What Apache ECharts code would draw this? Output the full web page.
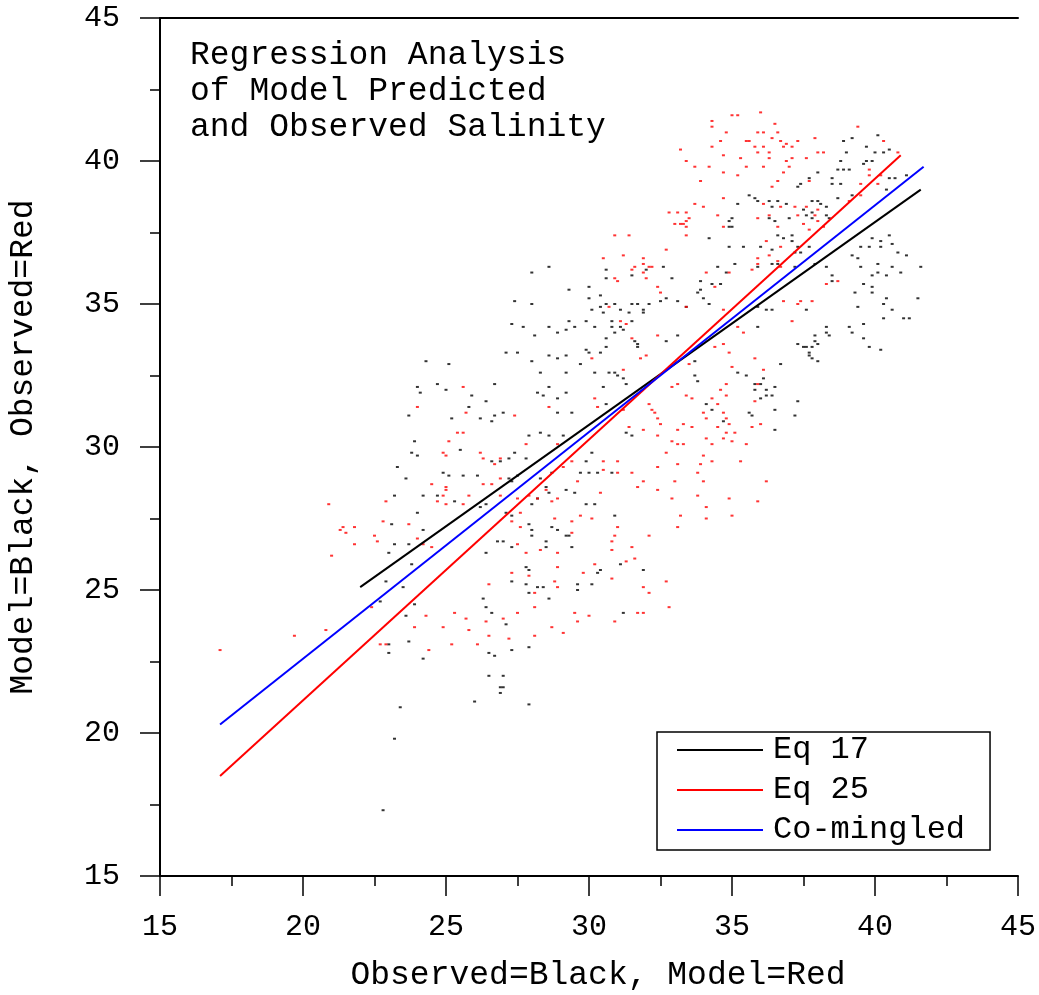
<!DOCTYPE html>
<html>
<head>
<meta charset="utf-8">
<script src="https://cdn.jsdelivr.net/npm/echarts@6/dist/echarts.min.js"></script>
<style>
html,body{margin:0;padding:0;background:#fff;}
#chart{width:1039px;height:995px;}
</style>
</head>
<body>
<div id="chart"></div>
<script>
// Axis ranges / ticks
const axisMin = 15, axisMax = 45, axisStep = 5;

// Black dots: observed salinity (x) vs model (y)
const blackPoints = [
[24.3,33.0],[25.1,32.9],[24.7,32.2],[25.0,32.0],[24.0,32.1],[24.1,31.9],[23.7,31.1],[23.9,30.2],[23.8,29.8],[24.0,29.7],
[23.3,29.3],[23.6,28.9],[24.9,29.1],[25.1,29.0],[23.2,28.3],[24.2,28.3],[24.7,28.3],[24.0,27.7],[23.1,27.3],[24.2,27.1],
[23.2,26.6],[23.7,26.6],[23.0,26.3],[23.8,25.9],[22.9,25.3],[23.5,25.1],[22.7,24.6],[23.9,24.5],[23.6,24.1],[23.7,23.2],
[23.0,23.1],[23.0,22.8],[24.2,22.6],[23.4,20.9],[23.2,19.8],[22.8,17.3],
[28.6,36.3],[28.0,36.1],[30.6,36.2],[30.6,35.9],[31.5,36.0],[32.0,36.2],[32.6,36.3],[32.9,35.9],[29.3,35.5],[30.0,35.6],
[30.4,35.3],[30.0,35.2],[30.6,35.0],[30.9,35.0],[30.4,34.9],[30.1,34.8],[31.1,34.8],[31.4,34.7],[31.7,35.0],[31.9,34.8],
[30.5,34.7],[32.7,35.2],[33.1,35.1],[33.4,34.9],[27.4,35.1],[28.0,35.0],[27.3,34.3],[27.7,34.2],[28.6,34.2],[28.9,34.0],
[29.2,34.1],[29.3,34.4],[29.5,34.2],[29.9,34.4],[30.2,34.2],[30.8,34.2],[30.9,34.0],[31.1,34.2],[31.5,34.4],[30.6,33.8],
[31.7,33.6],[31.7,33.5],[32.7,33.7],[33.1,33.9],[28.1,33.9],[27.5,33.3],[28.0,33.0],[27.1,33.3],[28.6,33.2],[28.9,33.1],
[29.2,33.2],[29.7,32.9],[29.9,33.4],[30.0,33.3],[30.4,33.3],[30.6,33.5],[28.3,32.6],[29.2,32.6],[30.2,32.6],[30.7,32.6],
[30.9,32.6],[31.0,32.5],[31.2,32.4],[31.3,32.2],[25.9,31.8],[25.8,31.4],[26.4,31.6],[26.7,32.2],[28.2,31.9],[28.4,31.8],
[28.6,32.1],[28.9,31.7],[29.2,31.9],[30.5,32.1],[25.2,31.0],[26.2,31.0],[26.6,30.9],[26.7,31.1],[27.0,31.2],[28.9,31.2],
[29.4,31.2],[27.9,30.4],[28.3,30.5],[28.6,30.4],[29.1,30.4],[31.3,30.5],[31.5,30.4],[30.6,31.5],[25.5,29.9],[27.4,29.8],
[26.6,29.5],[26.9,29.5],[27.2,29.6],[27.8,29.6],[25.6,29.0],[26.1,29.0],[27.2,28.9],[27.3,28.8],[27.5,29.0],[28.3,28.9],
[28.7,29.1],[29.7,29.1],[29.9,29.5],[30.1,29.8],[30.0,29.1],[30.3,29.1],[30.8,29.1],[25.3,28.1],[26.2,27.9],[26.4,28.0],
[27.1,27.7],[27.3,27.6],[28.0,28.0],[28.2,28.2],[28.5,28.6],[28.6,28.4],[29.2,28.5],[29.5,28.4],[29.9,28.0],[30.2,28.0],
[30.9,27.6],[26.4,26.3],[26.8,26.7],[27.0,26.7],[27.3,26.5],[27.9,27.3],[28.0,27.1],[28.0,26.9],[28.7,27.2],[28.9,27.1],
[28.5,26.7],[28.5,26.5],[29.2,26.9],[29.3,26.9],[29.4,26.5],[27.8,25.8],[27.9,25.7],[30.3,25.6],[30.4,25.7],[31.1,25.9],
[27.3,25.3],[27.8,25.2],[27.9,24.9],[28.2,25.1],[28.4,25.1],[28.6,24.7],[26.3,24.7],[26.4,24.4],[26.6,24.2],[27.1,23.8],
[27.3,22.9],[27.9,23.0],[26.5,22.8],[26.7,22.7],[26.5,22.0],[27.0,22.0],[26.9,21.6],[27.0,21.6],[26.9,21.4],[26.0,21.1],
[27.9,21.0],[29.6,25.2],[29.6,25.0],[30.1,25.2],[31.2,24.2],[31.9,25.7],
[40.1,40.9],[39.2,40.8],[38.9,40.7],[39.0,40.3],[39.7,40.5],[40.0,40.3],[40.3,40.3],[40.5,40.4],[39.7,40.0],[39.6,39.9],
[39.9,40.0],[38.8,40.0],[38.7,39.7],[38.9,39.7],[39.1,39.7],[38.5,39.4],[38.5,39.2],[38.8,39.2],[38.0,39.6],[37.7,39.4],
[37.3,39.1],[37.4,39.2],[38.7,38.7],[39.2,38.8],[40.5,39.4],[40.7,39.4],[40.4,39.0],[41.1,39.5],[35.6,38.8],[35.8,38.7],
[35.9,38.6],[35.2,38.5],[36.3,38.6],[36.4,38.4],[36.6,38.6],[36.9,38.5],[37.8,38.6],[38.0,38.6],[38.1,38.5],[38.3,38.4],
[38.3,38.1],[38.4,38.0],[37.5,38.3],[37.6,38.1],[37.8,38.2],[36.3,38.0],[36.5,37.9],[37.0,38.0],[37.8,38.0],[35.0,38.0],
[34.9,37.9],[34.9,37.7],[35.0,37.7],[34.2,37.3],[35.4,37.0],[36.0,37.0],[34.9,37.0],[36.6,37.4],[36.8,37.3],[37.1,37.4],
[37.1,37.2],[37.3,37.0],[37.2,36.8],[37.4,36.8],[37.7,37.0],[36.4,36.9],[36.4,36.4],[36.6,36.4],[35.9,36.3],[35.1,36.4],
[34.8,36.1],[34.5,36.3],[37.2,36.3],[38.3,36.3],[38.5,36.0],[38.5,35.8],[39.2,36.7],[39.5,37.0],[39.8,37.0],[39.9,37.3],
[40.2,37.2],[40.5,37.4],[40.6,37.1],[40.2,37.0],[40.8,36.8],[41.1,36.7],[39.4,36.6],[40.1,36.4],[39.5,36.3],[39.9,36.0],
[40.1,36.1],[40.4,36.0],[40.6,36.3],[40.9,36.1],[41.6,36.3],[39.6,35.7],[39.9,35.6],[39.9,35.4],[39.3,35.4],[39.4,34.9],
[40.3,35.0],[40.4,35.2],[40.6,34.8],[41.0,34.5],[41.2,34.5],[40.3,34.5],[41.5,35.2],[37.9,36.4],[37.6,34.8],[35.9,34.9],
[36.2,34.8],[36.4,34.8],[34.3,35.7],[33.8,35.4],[34.0,35.2],[34.2,35.0],[34.6,35.7],[38.3,34.2],[35.9,34.2],
[38.3,34.0],[38.4,33.9],[39.1,34.2],[39.2,34.0],[39.6,34.3],[39.6,33.8],[37.9,33.9],[37.3,33.6],[37.5,33.5],[37.6,33.5],
[37.8,33.5],[37.9,33.7],[38.0,33.6],[37.7,33.3],[37.7,33.2],[37.8,33.1],[38.0,33.0],[39.8,33.5],[40.2,33.4],[36.7,32.9],
[35.2,32.6],[35.5,32.5],[33.7,32.5],[35.8,32.2],[36.0,32.2],[36.1,32.4],[35.8,32.0],[36.2,32.0],[36.5,32.1],[36.0,31.7],
[37.3,31.6],[36.5,31.3],[37.2,31.1],[36.5,30.6],[34.1,31.5],[34.3,31.3],[34.7,30.9],[35.6,31.2],[35.7,31.1],
[31.5,35.0],[32.1,35.0],[32.5,35.1],[33.9,35.5],[33.9,35.8],[30.8,34.4],[31.2,34.1],[31.9,34.7],[33.7,33.0],[31.6,33.7],
[33.8,32.3],[36.2,31.8],[36.4,31.8]
];

// Red dots: model salinity (x) vs observed (y)
const redPoints = [
[24.0,31.4],[25.1,30.2],[24.9,29.8],[25.0,29.7],[24.5,28.7],[25.0,28.5],[24.9,28.3],[24.7,28.1],[25.0,28.0],[22.9,28.1],
[20.9,28.0],[22.8,27.4],[23.7,27.3],[21.4,27.2],[21.3,27.1],[21.5,27.0],[21.8,27.2],[22.5,26.9],[22.6,26.7],[21.8,26.6],
[24.0,26.8],[24.2,26.6],[24.5,26.5],[21.0,26.2],
[17.1,22.9],[19.7,23.4],[20.8,23.6],[22.4,24.4],[22.7,23.1],[22.9,23.1],[23.9,23.7],[24.3,24.1],[24.9,23.7],[24.4,22.9],
[27.3,25.6],[27.9,25.5],[26.5,25.2],[28.1,24.9],[28.8,25.3],[28.9,25.1],[29.8,25.6],[30.8,25.4],[31.9,25.1],[32.1,24.9],
[32.7,25.3],[32.8,24.4],[28.1,24.4],[27.5,24.2],[27.0,24.0],[26.4,23.9],[25.7,24.0],[25.3,24.2],[25.8,23.6],[26.1,23.1],
[25.2,23.1],[26.5,23.4],[27.2,23.3],[28.1,23.4],[28.7,23.7],[29.1,23.5],[29.5,24.2],[29.6,23.9],[30.0,24.1],[30.9,23.9],
[31.7,24.2],[31.9,24.2],
[30.5,36.6],[31.2,36.7],[31.9,36.6],[32.7,36.9],[31.5,36.2],[31.9,36.4],[32.1,36.3],[32.0,35.9],[32.2,36.3],[30.9,35.9],
[31.0,35.8],[32.4,35.6],[32.5,35.4],[30.7,34.9],[31.1,34.4],[31.3,34.3],[32.4,33.9],[31.5,33.8],[31.8,33.1],[32.0,33.2],
[30.1,33.1],[31.2,32.7],[25.6,32.1],[25.7,31.2],[27.4,31.1],[28.6,31.4],[30.2,31.7],[30.3,31.4],[31.2,31.3],[32.1,31.5],
[32.2,31.3],[32.3,31.2],[32.4,31.0],[32.5,30.8],[32.9,32.1],[33.1,32.2],[33.4,31.8],[33.3,30.8],[33.1,30.6],[31.4,30.7],
[31.9,30.6],[32.4,30.4],[32.9,30.2],[33.1,30.1],[32.7,29.8],[25.4,30.5],[25.6,30.5],[26.2,29.8],[26.3,29.6],[26.9,29.6],
[26.7,29.4],[26.9,28.9],[26.3,28.7],[26.6,28.7],[27.8,30.1],[28.9,30.1],[29.4,29.5],[29.1,29.3],[30.5,29.5],[31.0,29.5],
[30.5,29.2],[31.0,29.1],[31.5,29.1],[31.9,28.8],[32.4,29.3],[33.1,29.4],[33.0,28.8],[25.0,28.6],[25.6,28.0],[25.8,28.3],
[26.9,28.3],[27.5,28.2],[27.6,27.7],[27.9,28.3],[28.2,28.2],[28.5,28.5],[28.7,28.1],[28.9,28.2],[29.6,28.8],[30.4,28.4],
[31.7,28.6],[32.4,28.5],[32.9,28.2],[33.2,27.6],[33.1,27.2],[29.7,27.6],[30.1,27.5],[29.4,27.4],[28.8,27.5],[27.3,27.4],
[27.6,27.2],[31.0,27.2],[30.9,26.9],[32.1,26.9],[30.8,26.7],[31.5,26.5],[30.8,26.4],[31.6,26.1],[31.3,26.0],[30.2,25.9],
[28.9,25.8],[28.9,26.3],[27.5,26.6],[27.8,26.3],[29.4,27.0],[28.3,26.4],
[35.0,41.6],[35.2,41.6],[36.0,41.7],[34.3,41.4],[34.3,41.2],[34.8,41.0],[35.9,41.0],[36.1,41.0],[36.6,41.0],[36.5,41.3],
[34.6,40.7],[35.5,40.7],[35.6,40.7],[36.4,40.8],[36.7,40.7],[36.9,40.6],[37.3,40.7],[37.9,40.8],[39.4,41.2],[33.2,40.4],
[34.3,40.5],[35.8,40.5],[35.9,40.3],[36.1,40.5],[36.3,40.3],[36.8,40.5],[37.1,40.5],[38.0,40.3],[38.2,40.3],[34.7,40.2],
[35.3,40.1],[36.3,40.1],[36.9,40.0],[37.1,40.1],[37.6,40.1],[33.4,40.0],[33.7,39.8],[34.2,39.8],[35.5,39.8],[36.1,39.8],
[36.8,39.6],[37.0,39.8],[34.7,39.6],[35.2,39.5],[33.9,39.3],[36.6,39.3],[36.4,39.1],[37.7,39.3],[40.3,40.7],[40.8,40.3],
[39.8,39.7],[39.8,39.5],[40.2,39.5],[40.1,39.2],[39.5,39.2],[34.7,38.7],[33.7,38.5],[34.0,38.4],[33.4,38.2],[33.5,38.0],
[33.4,37.9],[33.3,37.8],[33.4,37.7],[33.4,37.4],[34.5,38.1],[36.1,38.5],[36.3,38.1],[36.7,38.4],[37.2,38.4],[37.3,38.1],
[37.6,38.4],[37.9,38.1],[38.0,38.3],[38.0,37.9],[38.2,37.7],[37.5,37.8],[37.7,37.6],[35.9,38.0],[34.7,37.7],[36.6,37.7],
[39.1,38.6],[39.5,38.8],[36.2,37.2],[35.9,36.6],[36.3,36.7],[35.9,36.4],[36.6,36.5],[36.7,37.0],[34.9,36.1],[34.1,36.1],
[35.7,36.2],[36.7,36.3],[38.3,35.7],[38.7,35.8],[36.8,35.1],[37.3,35.0],[37.4,35.1],[37.8,35.1],[37.1,34.4],[34.4,35.6],
[34.7,34.8],[33.4,34.9],
[35.2,34.2],[35.4,34.0],[34.7,33.6],[34.4,33.5],[34.9,33.3],[33.5,32.9],[35.0,32.8],[35.8,33.1],[36.1,32.7],[34.8,32.2],
[34.6,32.0],[33.6,31.7],[34.3,31.7],[34.5,31.5],[34.8,31.8],[35.9,32.2],[35.8,31.6],[34.0,31.2],[34.1,31.0],[34.7,31.2],
[34.8,31.0],[34.9,30.8],[33.6,30.7],[34.5,30.7],[34.8,30.5],[35.1,30.5],[35.7,30.7],[36.0,30.8],[34.1,30.3],[34.7,30.3],
[34.3,30.1],[35.0,30.2],[35.5,30.1],[33.3,30.1],[34.0,29.7],[33.9,29.4],[34.3,29.5],[35.3,29.5],[33.8,29.1],[34.0,28.8],
[36.2,28.8],[33.8,28.3],[34.9,28.2],[35.9,28.1],[34.1,27.9],[34.1,27.5],[35.0,27.6],
[30.9,37.4],[31.4,37.4],[31.6,36.3],[31.9,36.1],[32.8,38.2],[33.0,37.8],[33.2,37.8],[33.1,38.2]
];

// Regression lines (end points)
const eq17Line = [[22.0,25.1],[41.6,39.0]];
const eq25Line = [[17.1,18.5],[40.9,40.2]];
const coMingledLine = [[17.1,20.3],[41.7,39.8]];

const titleLines = ['Regression Analysis','of Model Predicted','and Observed Salinity'];
const legendNames = ['Eq 17','Eq 25','Co-mingled'];

const FONT = "'Liberation Mono', 'DejaVu Sans Mono', monospace";
const chart = echarts.init(document.getElementById('chart'), null, {renderer:'canvas'});

const axisCommon = {
  type:'value', min:axisMin, max:axisMax, interval:axisStep,
  splitLine:{show:false},
  axisLine:{show:true, onZero:false, lineStyle:{color:'#000', width:2}},
  axisTick:{show:true, inside:false, length:20, lineStyle:{color:'#000', width:1.5}},
  minorTick:{show:true, splitNumber:2, length:10, lineStyle:{color:'#000', width:1.5}},
  minorSplitLine:{show:false},
  axisLabel:{color:'#000', fontFamily:FONT, fontSize:30},
  nameTextStyle:{color:'#000', fontFamily:FONT, fontSize:33},
  nameLocation:'middle'
};

chart.setOption({
  animation:false,
  backgroundColor:'#fff',
  grid:{left:160, top:18, width:858, height:858, containLabel:false, outerBoundsMode:'none'},
  xAxis:[
    Object.assign({}, axisCommon, {
      position:'bottom',
      name:'Observed=Black, Model=Red', nameGap:83,
      nameTextStyle:Object.assign({}, axisCommon.nameTextStyle, {padding:[0,0,0,18]}),
      axisLabel:Object.assign({}, axisCommon.axisLabel, {margin:36})
    }),
    {type:'value', min:axisMin, max:axisMax, position:'top',
     axisLine:{show:true, onZero:false, lineStyle:{color:'#000', width:2}},
     axisTick:{show:false}, axisLabel:{show:false}, splitLine:{show:false}}
  ],
  yAxis:Object.assign({}, axisCommon, {
    position:'left',
    name:'Model=Black, Observed=Red', nameGap:120,
    axisLabel:Object.assign({}, axisCommon.axisLabel, {margin:40})
  }),
  legend:{
    data:legendNames,
    orient:'vertical',
    left:657, top:732,
    padding:[2,25,4,20],
    itemWidth:86, itemHeight:2, itemGap:8,
    borderColor:'#000', borderWidth:1.5, borderRadius:0,
    backgroundColor:'#fff',
    icon:'rect',
    selectedMode:false,
    textStyle:{color:'#000', fontFamily:FONT, fontSize:32, lineHeight:28, padding:[0,0,0,5]}
  },
  graphic:[{
    type:'text', left:190, top:37, silent:true,
    style:{text:titleLines.join('\n'), fill:'#000', font:'33px ' + FONT, lineHeight:36}
  }],
  series:[
    {type:'scatter', name:'Observed', data:blackPoints, symbol:'rect', symbolSize:[3,2],
     itemStyle:{color:'#000'}, silent:true, z:2},
    {type:'scatter', name:'Model', data:redPoints, symbol:'rect', symbolSize:[3,2],
     itemStyle:{color:'#ff0000'}, silent:true, z:2},
    {type:'line', name:'Eq 17', data:eq17Line, symbol:'none', lineStyle:{color:'#000', width:2},
     itemStyle:{color:'#000'}, silent:true, z:5},
    {type:'line', name:'Eq 25', data:eq25Line, symbol:'none', lineStyle:{color:'#ff0000', width:2},
     itemStyle:{color:'#ff0000'}, silent:true, z:5},
    {type:'line', name:'Co-mingled', data:coMingledLine, symbol:'none', lineStyle:{color:'#0000ff', width:2},
     itemStyle:{color:'#0000ff'}, silent:true, z:6}
  ]
});
</script>
</body>
</html>
